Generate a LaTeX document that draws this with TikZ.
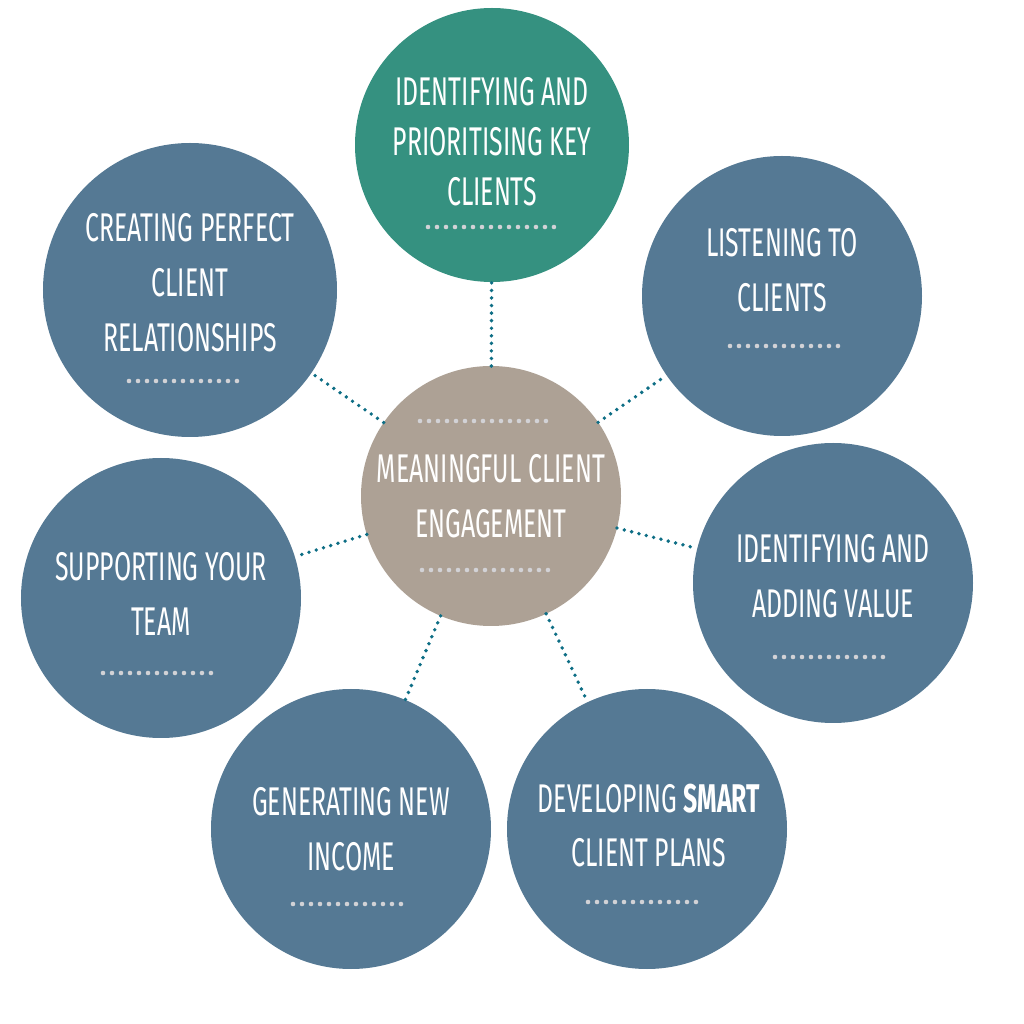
\documentclass[tikz,border=0pt]{standalone}
\usepackage{fontspec}
\setmainfont{Fira Sans}[FakeStretch=0.62]
\usepackage{tikz}
\usetikzlibrary{positioning,calc}
\definecolor{slate}{RGB}{85,121,148}
\definecolor{seateal}{RGB}{53,145,128}
\definecolor{taupe}{RGB}{173,161,149}
\definecolor{linkteal}{RGB}{14,110,133}
\definecolor{dotgrey}{RGB}{210,210,214}
\tikzset{disc/.style={circle, fill=slate, inner sep=0pt, outer sep=0pt, minimum size=2.8cm}, txt/.style={text=white, align=center, inner sep=0pt, font=\fontsize{11.4}{15.6}\selectfont}, link/.style={draw=linkteal, line width=1.1pt, line cap=round, dash pattern=on 0pt off 2.15pt}, dots/.style={draw=dotgrey, line width=1.3pt, line cap=round, dash pattern=on 0pt off 2.56pt}}

\begin{document}
\begin{tikzpicture}
\useasboundingbox (0,0) rectangle (10.24,10.24);
% circles
\node[disc, fill=seateal, minimum size=2.74cm] (key) at (4.92,8.79) {};
\node[disc] (listen) at (7.82,7.28) {};
\node[disc] (value) at (8.33,4.41) {};
\node[disc] (smart) at (6.47,1.95) {};
\node[disc] (income) at (3.51,1.95) {};
\node[disc] (team) at (1.61,4.26) {};
\node[disc, minimum size=2.94cm] (perfect) at (1.90,7.34) {};
\node[disc, fill=taupe, minimum size=2.6cm] (hub) at (4.91,5.28) {};
% connectors
\foreach \n in {key,listen,value,smart,income,team,perfect}
  \draw[link] (hub) -- (\n);
% texts
\node[txt, font=\fontsize{11.4}{14.2}\selectfont] (key-t) at ($(key)+(0,0.03)$) {IDENTIFYING AND\\PRIORITISING KEY\\CLIENTS};
\node[txt] (listen-t) at ($(listen)+(0,0.255)$) {LISTENING TO\\CLIENTS};
\node[txt] (value-t) at ($(value)+(0,0.065)$) {IDENTIFYING AND\\ADDING VALUE};
\node[txt] (smart-t) at ($(smart)+(0.02,0.035)$) {DEVELOPING \textbf{SMART}\\CLIENT PLANS};
\node[txt] (income-t) at (income) {GENERATING NEW\\INCOME};
\node[txt] (team-t) at ($(team)+(0,0.04)$) {SUPPORTING YOUR\\TEAM};
\node[txt] (perfect-t) at ($(perfect)+(0,0.07)$) {CREATING PERFECT\\CLIENT\\RELATIONSHIPS};
\node[txt] (hub-t) at (hub) {MEANINGFUL CLIENT\\ENGAGEMENT};
% dotted rules
\draw[dots] ($(key)+(-0.64,-0.82)$) -- ++(1.27,0);
\draw[dots] ($(listen)+(-0.52,-0.50)$) -- ++(1.08,0);
\draw[dots] ($(value)+(-0.58,-0.74)$) -- ++(1.09,0);
\draw[dots] ($(smart)+(-0.59,-0.73)$) -- ++(1.09,0);
\draw[dots] ($(income)+(-0.58,-0.75)$) -- ++(1.09,0);
\draw[dots] ($(team)+(-0.58,-0.75)$) -- ++(1.09,0);
\draw[dots] ($(perfect)+(-0.61,-0.91)$) -- ++(1.16,0);
\draw[dots] ($(hub)+(-0.71,0.75)$) -- ++(1.28,0);
\draw[dots] ($(hub)+(-0.69,-0.74)$) -- ++(1.28,0);
\end{tikzpicture}
\end{document}
